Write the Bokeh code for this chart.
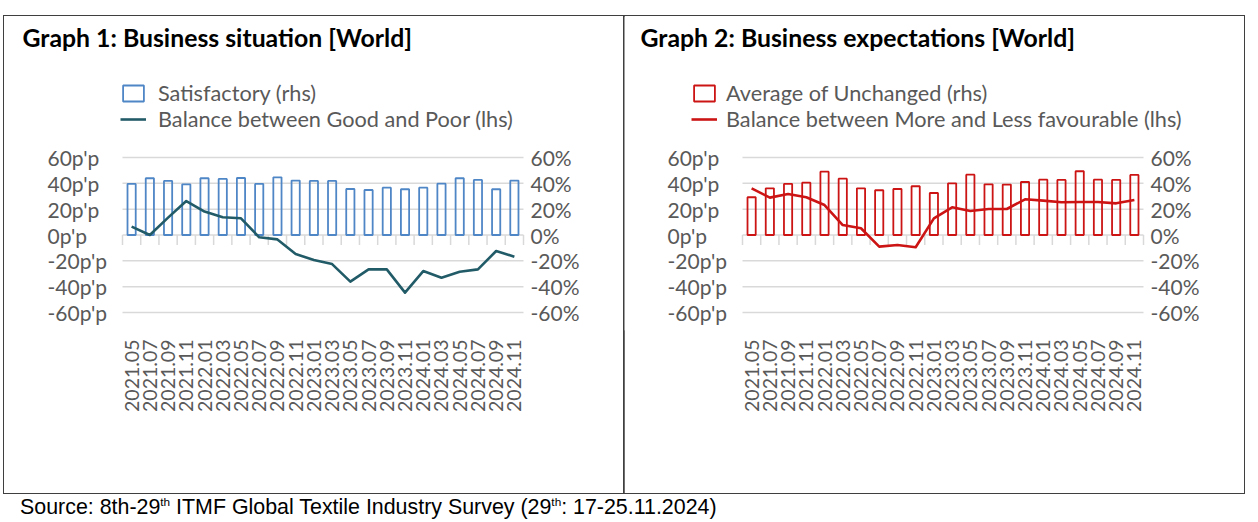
import math
from bokeh.plotting import figure
from bokeh.models import (ColumnDataSource, FixedTicker, Range1d, Legend, LegendItem,
                          LabelSet, Label, Div)
from bokeh.layouts import row, column
from bokeh.core.properties import value
from bokeh.embed import file_html
from bokeh.resources import INLINE

categories = ["2021.05", "2021.07", "2021.09", "2021.11", "2022.01", "2022.03", "2022.05",
              "2022.07", "2022.09", "2022.11", "2023.01", "2023.03", "2023.05", "2023.07",
              "2023.09", "2023.11", "2024.01", "2024.03", "2024.05", "2024.07", "2024.09",
              "2024.11"]

satisfactory = [39.5, 43.9, 41.8, 39.2, 43.9, 43.4, 44.1, 39.5, 44.6, 42.1, 41.8,
                41.8, 35.6, 34.8, 36.6, 35.4, 36.6, 39.7, 43.9, 42.6, 35.4, 42.1]
balance_good_poor = [6.5, 0.0, 13.4, 26.3, 18.1, 13.7, 12.9, -1.8, -3.4, -14.7, -19.4,
                     -22.5, -36.1, -26.6, -26.6, -44.6, -27.9, -33.0, -28.4, -26.6, -12.4, -16.8]

unchanged = [29.2, 36.1, 39.5, 40.5, 49.0, 43.6, 36.1, 34.6, 35.6, 37.7, 32.5,
             40.0, 46.7, 39.2, 39.0, 41.0, 42.8, 42.6, 49.3, 42.8, 42.6, 46.5]
balance_more_less = [36.1, 28.9, 31.7, 29.2, 23.2, 7.7, 5.2, -9.0, -7.7, -9.5, 12.9,
                     21.4, 18.6, 20.1, 20.1, 27.6, 26.6, 25.3, 25.5, 25.5, 24.5, 27.1]

y_ticks = [-60, -40, -20, 0, 20, 40, 60]
left_tick_labels = ["-60p'p", "-40p'p", "-20p'p", "0p'p", "20p'p", "40p'p", "60p'p"]
right_tick_labels = ["-60%", "-40%", "-20%", "0%", "20%", "40%", "60%"]

FONT = "Lato"
GRAY = "#595959"
GRID = "#d9d9d9"

# panel geometry (pixels inside each 620 x 477 panel)
PANEL_W, PANEL_H = 620, 477
PLOT_L, PLOT_R = 118, 519          # where the category area starts / ends
PLOT_T, PLOT_B = 139, 298          # where y = +61.5 / -61.5 land
FRAME_B = 314                      # bottom of the drawing frame (x labels below it)
Y_LO, Y_HI = -61.5, 61.5


def make_panel(title, bar_vals, bar_name, line_vals, line_name, bar_color, line_color,
               title_x, legend_x, legend_standoff):
    n = len(categories)
    xs = list(range(n))
    px_per_x = (PLOT_R - PLOT_L) / n
    px_per_y = (PLOT_B - PLOT_T) / (Y_HI - Y_LO)
    x_start = -0.5 - PLOT_L / px_per_x
    x_end = n - 0.5 + (PANEL_W - PLOT_R) / px_per_x
    y_end = Y_HI + PLOT_T / px_per_y
    y_start = Y_LO - (FRAME_B - PLOT_B) / px_per_y

    p = figure(width=PANEL_W, height=PANEL_H,
               x_range=Range1d(x_start, x_end), y_range=Range1d(y_start, y_end),
               output_backend="svg", toolbar_location=None,
               x_axis_location="below", y_axis_location=None,
               min_border_left=0, min_border_right=0, min_border_top=0,
               min_border_bottom=PANEL_H - FRAME_B, outline_line_color=None,
               background_fill_color="white", border_fill_color="white",
               styles={"outline": "1.5px solid #3f3f3f", "outline-offset": "-0.75px"})

    p.xgrid.visible = False
    p.ygrid.visible = False

    # horizontal gridlines over the category area
    p.segment(x0=[-0.5] * len(y_ticks), y0=y_ticks, x1=[n - 0.5] * len(y_ticks), y1=y_ticks,
              line_color=GRID, line_width=1.5)

    # category tick marks on the zero line
    bounds = [i - 0.5 for i in range(n + 1)]
    p.segment(x0=bounds, y0=[0] * len(bounds), x1=bounds, y1=[-7.7] * len(bounds),
              line_color=GRID, line_width=1.5)

    bars = p.vbar(x=xs, top=bar_vals, bottom=0, width=0.45, fill_color=None,
                  line_color=bar_color, line_width=1.8)
    line = p.line(x=xs, y=line_vals, line_color=line_color, line_width=2.6,
                  line_join="round")

    # x axis with the period labels
    xa = p.xaxis[0]
    xa.ticker = FixedTicker(ticks=xs)
    xa.major_label_overrides = {i: c for i, c in zip(xs, categories)}
    xa.major_label_orientation = math.pi / 2
    xa.major_label_standoff = 3
    xa.axis_line_color = None
    xa.major_tick_line_color = None
    xa.minor_tick_line_color = None
    xa.major_label_text_font = FONT
    xa.major_label_text_font_size = "19.5px"
    xa.major_label_text_color = GRAY

    # value labels, left (p'p) and right (%), both left aligned like the original
    src = ColumnDataSource(dict(y=y_ticks, left=left_tick_labels, right=right_tick_labels))
    for xpos, col in ((43, "left"), (526, "right")):
        p.add_layout(LabelSet(x=xpos, y="y", text=col, source=src, x_units="screen",
                              text_align="left", text_baseline="middle",
                              text_font=value(FONT), text_font_size=value("21px"),
                              text_color=GRAY))

    # title
    p.add_layout(Label(x=title_x, y=FRAME_B - 21, x_units="screen", y_units="screen",
                       text=title, text_font=FONT, text_font_size="24.8px",
                       text_font_style="bold", text_color="black",
                       text_align="left", text_baseline="alphabetic"))

    legend = Legend(items=[LegendItem(label=bar_name, renderers=[bars]),
                           LegendItem(label=line_name, renderers=[line])],
                    location=(legend_x, FRAME_B - 115.5), orientation="vertical",
                    glyph_width=26, glyph_height=20, label_height=25, spacing=0,
                    padding=0, margin=0, label_standoff=legend_standoff,
                    border_line_color=None, background_fill_alpha=0,
                    label_text_font=FONT, label_text_font_size="21.7px",
                    label_text_color=GRAY)
    p.add_layout(legend)
    return p


p1 = make_panel("Graph 1: Business situation [World]", satisfactory, "Satisfactory (rhs)",
                balance_good_poor, "Balance between Good and Poor (lhs)",
                "#4f86c6", "#225b68", 18, 116, 12)
p2 = make_panel("Graph 2: Business expectations [World]", unchanged, "Average of Unchanged (rhs)",
                balance_more_less, "Balance between More and Less favourable (lhs)",
                "#cc1414", "#cc1414", 16, 67, 9)

source = Div(text='Source: 8th-29<sup style="font-size:55%;line-height:0">th</sup> ITMF Global '
                  'Textile Industry Survey (29<sup style="font-size:55%;line-height:0">th</sup>: '
                  '17-25.11.2024)',
             width=780, height=21, margin=(0, 0, 0, 20),
             styles={"font-family": "'Liberation Sans', Arial, sans-serif",
                     "font-size": "21.4px", "line-height": "21px", "color": "#000",
                     "position": "relative", "top": "4px", "white-space": "nowrap"})

layout = column(row(p1, p2, margin=(16, 0, 0, 4)), source)

open("out.html", "w").write(file_html(layout, INLINE))
